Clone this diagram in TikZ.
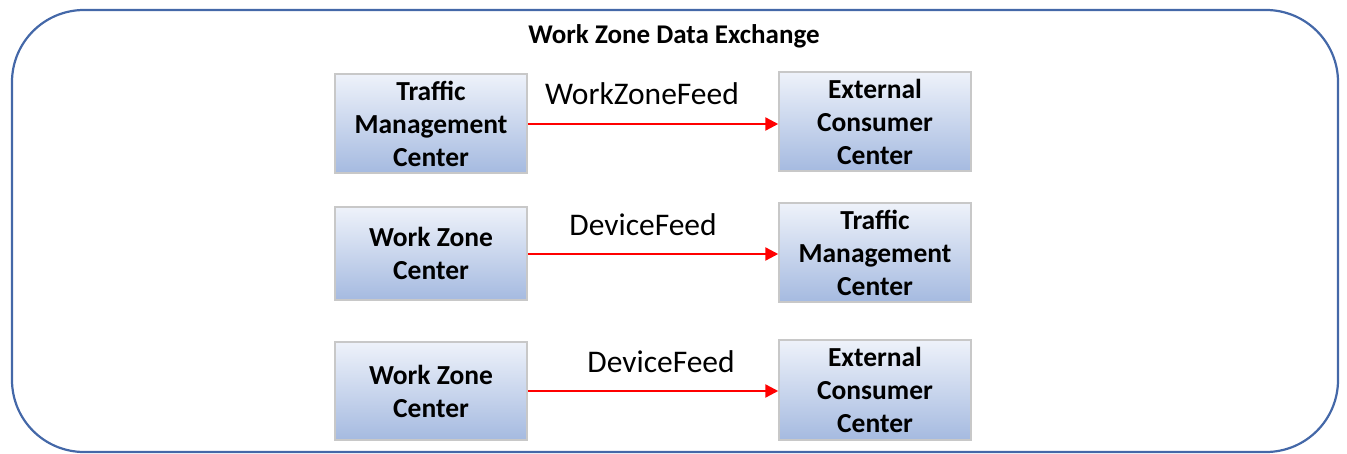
\documentclass[tikz,border=0pt]{standalone}
\usepackage{fontspec}
\setmainfont{Carlito}
\usetikzlibrary{arrows.meta}
\definecolor{frame}{RGB}{68,104,168}
\definecolor{boxtop}{RGB}{238,242,250}
\definecolor{boxbot}{RGB}{165,186,224}
\definecolor{boxline}{RGB}{200,200,200}
\definecolor{arr}{RGB}{255,0,0}
\begin{document}
\begin{tikzpicture}[x=1pt,y=-1pt,
  sysbox/.style={draw=boxline,line width=1.5pt,top color=boxtop,bottom color=boxbot,
    minimum width=192pt,inner sep=0pt,align=center,font=\fontsize{27.5}{33}\selectfont\bfseries},
  flow/.style={draw=arr,line width=2.4pt,-{Triangle[length=13pt,width=13pt]}},
  flowlabel/.style={font=\fontsize{31.5}{36}\selectfont,inner sep=0pt}]
\useasboundingbox (0,0) rectangle (1347,454);
\draw[frame,line width=2.2pt,rounded corners=72pt] (12,10) rectangle (1338,452);
\node[font=\fontsize{27}{32}\selectfont\bfseries] (title) at (674,36) {Work Zone Data Exchange};
\node[sysbox,minimum height=99pt] (tmc1) at (431,123.5) {Traffic\\Management\\Center};
\node[sysbox,minimum height=99pt] (ecc1) at (875,121.5) {External\\Consumer\\Center};
\node[sysbox,minimum height=93pt] (wzc2) at (431,253.5) {Work Zone\\Center};
\node[sysbox,minimum height=99pt] (tmc2) at (875,252.5) {Traffic\\Management\\Center};
\node[sysbox,minimum height=98pt] (wzc3) at (431,391) {Work Zone\\Center};
\node[sysbox,minimum height=100pt] (ecc3) at (875,390) {External\\Consumer\\Center};
\draw[flow] (tmc1.east |- 0,124) -- (ecc1.west |- 0,124);
\draw[flow] (wzc2.east |- 0,254) -- (tmc2.west |- 0,254);
\draw[flow] (wzc3.east |- 0,391) -- (ecc3.west |- 0,391);
\node[flowlabel] (l1) at (642,94) {WorkZoneFeed};
\node[flowlabel] (l2) at (643,225) {DeviceFeed};
\node[flowlabel] (l3) at (661,362) {DeviceFeed};
\end{tikzpicture}
\end{document}
